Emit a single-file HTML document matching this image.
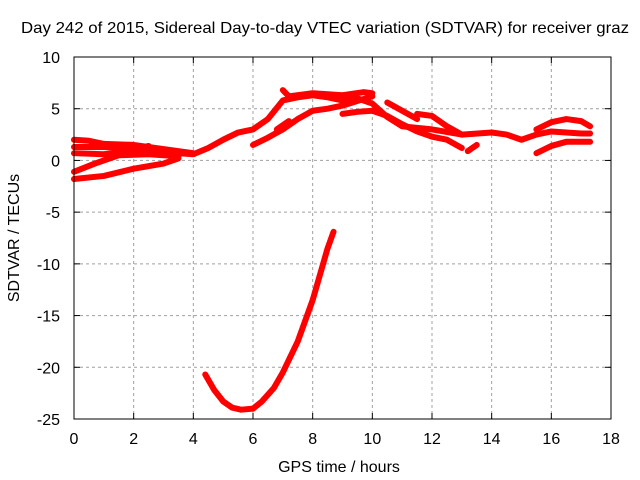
<!DOCTYPE html>
<html><head><meta charset="utf-8"><style>
body{margin:0;background:#fff}
svg{display:block;font-family:"Liberation Sans",sans-serif}
</style></head><body>
<svg id="chart" width="640" height="480">
<rect width="640" height="480" fill="#fff"/>
<text x="325" y="33" font-size="16" text-anchor="middle" textLength="608" lengthAdjust="spacingAndGlyphs">Day 242 of 2015, Sidereal Day-to-day VTEC variation (SDTVAR) for receiver graz</text>
<g id="grid"></g>
<g id="series"></g>
<rect x="74" y="57" width="537" height="362" fill="none" stroke="#000" stroke-width="1"/>
<g id="ticks"></g>
<text x="339" y="472" font-size="16" text-anchor="middle">GPS time / hours</text>
<text transform="translate(19,238) rotate(-90)" font-size="16" text-anchor="middle">SDTVAR / TECUs</text>
</svg>
<script>
const xTicks=[0,2,4,6,8,10,12,14,16,18];
const yTicks=[10,5,0,-5,-10,-15,-20,-25];
const trackMain=[[0,1.3],[1,1.3],[2,1.2],[3,0.8],[4,0.6],[4.5,1.2],[5,2],[5.5,2.7],[6,3],[6.5,4],[7,5.8],[7.5,6.1],[8,6.3],[8.5,6.1],[9,5.8],[9.5,6],[10,5.5],[10.5,4.2],[11,3.3],[12,3],[13,2.5],[14,2.7],[14.5,2.5],[15,2],[15.5,2.5],[16,2.8],[17,2.6],[17.3,2.6]];
const trackLow=[[0,-1.8],[1,-1.5],[2,-0.8],[3,-0.3],[3.5,0.2]];
const trackRise=[[0,-1.1],[0.7,-0.3],[1.5,0.5],[2.5,0.6],[3.5,0.4]];
const trackEarly=[[0,0.7],[1,0.6],[2,1.0],[2.5,1.4]];
const trackTop=[[0,2.0],[0.5,1.9],[1,1.6],[2,1.5],[3,1.1],[4,0.7]];
const trackMid=[[6,1.5],[6.5,2.2],[7,3],[7.5,4],[8,4.8],[8.5,5],[9,5.3],[10,6.2]];
const trackShort=[[6.8,3],[7.2,3.8]];
const trackPeak=[[7,6.8],[7.2,6.2],[8,6.5],[9,6.3],[9.7,6.6],[10,6.5]];
const trackDesc=[[9,4.5],[9.5,4.7],[10,4.8],[10.5,4.3],[11,3.5],[11.5,2.8],[12,2.3],[12.5,2],[13,1.2]];
const trackK=[[10.5,5.6],[11,4.8],[11.5,4]];
const trackG=[[11.5,4.5],[12,4.3],[12.5,3.3],[13,2.5]];
const trackJ=[[13.2,0.9],[13.5,1.5]];
const trackH=[[15.5,0.7],[16,1.4],[16.5,1.8],[17.3,1.8]];
const trackI=[[15.5,3],[16,3.7],[16.5,4],[17,3.8],[17.3,3.3]];
const trackDip=[[4.4,-20.7],[4.7,-22.2],[5,-23.3],[5.3,-23.9],[5.6,-24.1],[6,-24],[6.3,-23.3],[6.7,-22],[7,-20.5],[7.5,-17.5],[8,-13.5],[8.3,-10.5],[8.5,-8.5],[8.7,-6.9]];
const tracks=[trackMain,trackLow,trackRise,trackEarly,trackTop,trackMid,trackShort,trackPeak,trackDesc,trackK,trackG,trackJ,trackH,trackI,trackDip];

const L=74,R=611,T=57,B=419;
const sx=h=>L+(h-0)/(18-0)*(R-L);
const sy=v=>T+(10-v)/(10-(-25))*(B-T);
const NS='http://www.w3.org/2000/svg';
const grid=document.getElementById('grid'),ticks=document.getElementById('ticks'),ser=document.getElementById('series');
function mk(tag,at,parent){const e=document.createElementNS(NS,tag);for(const k in at)e.setAttribute(k,at[k]);parent.appendChild(e);return e;}
xTicks.forEach(t=>{
  const x=sx(t);
  if(t>0&&t<18){const g=mk('line',{x1:x,x2:x,y1:T,y2:B,stroke:'#a0a0a0','stroke-dasharray':'3,3'},grid);
  
  }
  mk('line',{x1:x,x2:x,y1:B,y2:B-6,stroke:'#000'},ticks);mk('line',{x1:x,x2:x,y1:T,y2:T+6,stroke:'#000'},ticks);
  const tx=mk('text',{x:x,y:B+25,'font-size':16,'text-anchor':'middle'},ticks);tx.textContent=t;
  
  
});
yTicks.forEach(t=>{
  const y=sy(t);
  if(t<10&&t>-25){const g=mk('line',{x1:L,x2:R,y1:y,y2:y,stroke:'#a0a0a0','stroke-dasharray':'3,3'},grid);
  
  }
  mk('line',{x1:L,x2:L+6,y1:y,y2:y,stroke:'#000'},ticks);mk('line',{x1:R,x2:R-6,y1:y,y2:y,stroke:'#000'},ticks);
  const tx=mk('text',{x:L-14,y:y+6,'font-size':16,'text-anchor':'end'},ticks);tx.textContent=t;
  
  
});
tracks.forEach((tr,i)=>{
  const p=mk('polyline',{points:tr.map(d=>sx(d[0])+','+sy(d[1])).join(' '),fill:'none',stroke:'#ff0000','stroke-width':6,'stroke-linejoin':'round','stroke-linecap':'round'},ser);
  
  
});
</script>
</body></html>
